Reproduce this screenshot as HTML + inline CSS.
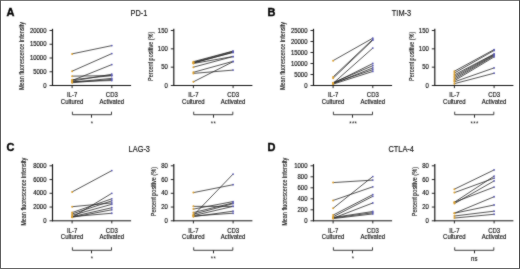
<!DOCTYPE html>
<html><head><meta charset="utf-8"><style>
html,body{margin:0;padding:0;background:#fff;}
#w{position:relative;width:520px;height:269px;overflow:hidden;}
svg{position:absolute;left:0;top:0;will-change:transform;}
text{font-family:"Liberation Sans", sans-serif;fill:#111;stroke:#111;stroke-width:0.16px;}
.sg{stroke:none;letter-spacing:0.4px;}
.yl{stroke:#111;stroke-width:0.12px;}
.pl{stroke:#000;stroke-width:0.35px;fill:#000;}
</style></head><body><div id="w">
<svg width="520" height="269" viewBox="0 0 520 269">
<defs><filter id="bl" x="0" y="0" width="520" height="269" filterUnits="userSpaceOnUse" color-interpolation-filters="sRGB"><feConvolveMatrix order="3" kernelMatrix="1 2 1 2 20 2 1 2 1" divisor="32" edgeMode="duplicate"/></filter></defs>
<g filter="url(#bl)">
<text class="pl" x="0" y="0" font-size="10" font-weight="bold" transform="translate(6.50,15.60) scale(1.1,1)">A</text>
<text x="0" y="0" font-size="8.6" text-anchor="middle" transform="translate(139.00,16.30) scale(0.86,1)">PD-1</text>
<line x1="72.10" y1="53.88" x2="111.80" y2="45.62" stroke="#2a2a2a" stroke-width="0.8" />
<line x1="72.10" y1="71.20" x2="111.80" y2="53.60" stroke="#2a2a2a" stroke-width="0.8" />
<line x1="72.10" y1="80.55" x2="111.80" y2="64.60" stroke="#2a2a2a" stroke-width="0.8" />
<line x1="72.10" y1="76.15" x2="111.80" y2="75.60" stroke="#2a2a2a" stroke-width="0.8" />
<line x1="72.10" y1="81.10" x2="111.80" y2="74.22" stroke="#2a2a2a" stroke-width="0.8" />
<line x1="72.10" y1="79.72" x2="111.80" y2="75.60" stroke="#2a2a2a" stroke-width="0.8" />
<line x1="72.10" y1="82.20" x2="111.80" y2="78.35" stroke="#2a2a2a" stroke-width="0.8" />
<line x1="72.10" y1="82.75" x2="111.80" y2="79.45" stroke="#2a2a2a" stroke-width="0.8" />
<line x1="72.10" y1="81.65" x2="111.80" y2="80.55" stroke="#2a2a2a" stroke-width="0.8" />
<circle cx="72.10" cy="53.88" r="1.0" fill="#dba030"/>
<circle cx="111.80" cy="45.62" r="0.9" fill="#5a5ab4"/>
<circle cx="72.10" cy="71.20" r="1.0" fill="#dba030"/>
<circle cx="111.80" cy="53.60" r="0.9" fill="#5a5ab4"/>
<circle cx="72.10" cy="80.55" r="1.0" fill="#dba030"/>
<circle cx="111.80" cy="64.60" r="0.9" fill="#5a5ab4"/>
<circle cx="72.10" cy="76.15" r="1.0" fill="#dba030"/>
<circle cx="111.80" cy="75.60" r="0.9" fill="#5a5ab4"/>
<circle cx="72.10" cy="81.10" r="1.0" fill="#dba030"/>
<circle cx="111.80" cy="74.22" r="0.9" fill="#5a5ab4"/>
<circle cx="72.10" cy="79.72" r="1.0" fill="#dba030"/>
<circle cx="111.80" cy="75.60" r="0.9" fill="#5a5ab4"/>
<circle cx="72.10" cy="82.20" r="1.0" fill="#dba030"/>
<circle cx="111.80" cy="78.35" r="0.9" fill="#5a5ab4"/>
<circle cx="72.10" cy="82.75" r="1.0" fill="#dba030"/>
<circle cx="111.80" cy="79.45" r="0.9" fill="#5a5ab4"/>
<circle cx="72.10" cy="81.65" r="1.0" fill="#dba030"/>
<circle cx="111.80" cy="80.55" r="0.9" fill="#5a5ab4"/>
<line x1="52.50" y1="28.80" x2="52.50" y2="86.00" stroke="#111" stroke-width="1.15" />
<line x1="52.00" y1="85.50" x2="131.10" y2="85.50" stroke="#111" stroke-width="1.0" />
<line x1="49.50" y1="85.50" x2="52.50" y2="85.50" stroke="#111" stroke-width="0.9" />
<text x="0" y="0" font-size="6.5" text-anchor="end" transform="translate(46.50,87.50) scale(0.92,1)" >0</text>
<line x1="49.50" y1="71.75" x2="52.50" y2="71.75" stroke="#111" stroke-width="0.9" />
<text x="0" y="0" font-size="6.5" text-anchor="end" transform="translate(46.50,73.75) scale(0.92,1)" >5000</text>
<line x1="49.50" y1="58.00" x2="52.50" y2="58.00" stroke="#111" stroke-width="0.9" />
<text x="0" y="0" font-size="6.5" text-anchor="end" transform="translate(46.50,60.00) scale(0.92,1)" >10000</text>
<line x1="49.50" y1="44.25" x2="52.50" y2="44.25" stroke="#111" stroke-width="0.9" />
<text x="0" y="0" font-size="6.5" text-anchor="end" transform="translate(46.50,46.25) scale(0.92,1)" >15000</text>
<line x1="49.50" y1="30.50" x2="52.50" y2="30.50" stroke="#111" stroke-width="0.9" />
<text x="0" y="0" font-size="6.5" text-anchor="end" transform="translate(46.50,32.50) scale(0.92,1)" >20000</text>
<line x1="72.10" y1="85.50" x2="72.10" y2="88.10" stroke="#111" stroke-width="0.9" />
<line x1="111.80" y1="85.50" x2="111.80" y2="88.10" stroke="#111" stroke-width="0.9" />
<text x="0" y="0" font-size="6.5" text-anchor="middle" transform="translate(72.10,97.20) scale(0.92,1)" >IL-7</text>
<text x="0" y="0" font-size="6.5" text-anchor="middle" transform="translate(72.10,104.10) scale(0.92,1)" >Cultured</text>
<text x="0" y="0" font-size="6.5" text-anchor="middle" transform="translate(111.80,97.20) scale(0.92,1)" >CD3</text>
<text x="0" y="0" font-size="6.5" text-anchor="middle" transform="translate(111.80,104.10) scale(0.92,1)" >Activated</text>
<text class="yl" x="0" y="0" font-size="6.8" text-anchor="middle" transform="translate(23.90,56.00) rotate(-90) scale(0.81,1)">Mean fluorescence intensity</text>
<path d="M72.40,111.70 V114.70 H111.50 V111.70" fill="none" stroke="#2a2a2a" stroke-width="0.9"/>
<path d="M91.50,114.70 V117.70" fill="none" stroke="#2a2a2a" stroke-width="1"/>
<text x="0" y="0" font-size="6.5" text-anchor="middle" transform="translate(92.05,125.70) scale(0.92,1)" class="sg">*</text>
<line x1="193.40" y1="61.67" x2="233.10" y2="51.03" stroke="#2a2a2a" stroke-width="0.8" />
<line x1="193.40" y1="62.40" x2="233.10" y2="51.40" stroke="#2a2a2a" stroke-width="0.8" />
<line x1="193.40" y1="63.13" x2="233.10" y2="52.13" stroke="#2a2a2a" stroke-width="0.8" />
<line x1="193.40" y1="63.50" x2="233.10" y2="56.53" stroke="#2a2a2a" stroke-width="0.8" />
<line x1="193.40" y1="67.17" x2="233.10" y2="56.53" stroke="#2a2a2a" stroke-width="0.8" />
<line x1="193.40" y1="72.30" x2="233.10" y2="61.30" stroke="#2a2a2a" stroke-width="0.8" />
<line x1="193.40" y1="73.40" x2="233.10" y2="70.10" stroke="#2a2a2a" stroke-width="0.8" />
<line x1="193.40" y1="81.83" x2="233.10" y2="61.67" stroke="#2a2a2a" stroke-width="0.8" />
<line x1="193.40" y1="62.77" x2="233.10" y2="52.50" stroke="#2a2a2a" stroke-width="0.8" />
<circle cx="193.40" cy="61.67" r="1.0" fill="#dba030"/>
<circle cx="233.10" cy="51.03" r="0.9" fill="#5a5ab4"/>
<circle cx="193.40" cy="62.40" r="1.0" fill="#dba030"/>
<circle cx="233.10" cy="51.40" r="0.9" fill="#5a5ab4"/>
<circle cx="193.40" cy="63.13" r="1.0" fill="#dba030"/>
<circle cx="233.10" cy="52.13" r="0.9" fill="#5a5ab4"/>
<circle cx="193.40" cy="63.50" r="1.0" fill="#dba030"/>
<circle cx="233.10" cy="56.53" r="0.9" fill="#5a5ab4"/>
<circle cx="193.40" cy="67.17" r="1.0" fill="#dba030"/>
<circle cx="233.10" cy="56.53" r="0.9" fill="#5a5ab4"/>
<circle cx="193.40" cy="72.30" r="1.0" fill="#dba030"/>
<circle cx="233.10" cy="61.30" r="0.9" fill="#5a5ab4"/>
<circle cx="193.40" cy="73.40" r="1.0" fill="#dba030"/>
<circle cx="233.10" cy="70.10" r="0.9" fill="#5a5ab4"/>
<circle cx="193.40" cy="81.83" r="1.0" fill="#dba030"/>
<circle cx="233.10" cy="61.67" r="0.9" fill="#5a5ab4"/>
<circle cx="193.40" cy="62.77" r="1.0" fill="#dba030"/>
<circle cx="233.10" cy="52.50" r="0.9" fill="#5a5ab4"/>
<line x1="173.80" y1="28.80" x2="173.80" y2="86.00" stroke="#111" stroke-width="1.15" />
<line x1="173.30" y1="85.50" x2="252.40" y2="85.50" stroke="#111" stroke-width="1.0" />
<line x1="170.80" y1="85.50" x2="173.80" y2="85.50" stroke="#111" stroke-width="0.9" />
<text x="0" y="0" font-size="6.5" text-anchor="end" transform="translate(167.80,87.50) scale(0.92,1)" >0</text>
<line x1="170.80" y1="67.17" x2="173.80" y2="67.17" stroke="#111" stroke-width="0.9" />
<text x="0" y="0" font-size="6.5" text-anchor="end" transform="translate(167.80,69.17) scale(0.92,1)" >50</text>
<line x1="170.80" y1="48.83" x2="173.80" y2="48.83" stroke="#111" stroke-width="0.9" />
<text x="0" y="0" font-size="6.5" text-anchor="end" transform="translate(167.80,50.83) scale(0.92,1)" >100</text>
<line x1="170.80" y1="30.50" x2="173.80" y2="30.50" stroke="#111" stroke-width="0.9" />
<text x="0" y="0" font-size="6.5" text-anchor="end" transform="translate(167.80,32.50) scale(0.92,1)" >150</text>
<line x1="193.40" y1="85.50" x2="193.40" y2="88.10" stroke="#111" stroke-width="0.9" />
<line x1="233.10" y1="85.50" x2="233.10" y2="88.10" stroke="#111" stroke-width="0.9" />
<text x="0" y="0" font-size="6.5" text-anchor="middle" transform="translate(193.40,97.20) scale(0.92,1)" >IL-7</text>
<text x="0" y="0" font-size="6.5" text-anchor="middle" transform="translate(193.40,104.10) scale(0.92,1)" >Cultured</text>
<text x="0" y="0" font-size="6.5" text-anchor="middle" transform="translate(233.10,97.20) scale(0.92,1)" >CD3</text>
<text x="0" y="0" font-size="6.5" text-anchor="middle" transform="translate(233.10,104.10) scale(0.92,1)" >Activated</text>
<text class="yl" x="0" y="0" font-size="6.8" text-anchor="middle" transform="translate(152.60,56.30) rotate(-90) scale(0.81,1)">Percent positive (%)</text>
<path d="M193.70,111.70 V114.70 H232.80 V111.70" fill="none" stroke="#2a2a2a" stroke-width="0.9"/>
<path d="M213.50,114.70 V117.70" fill="none" stroke="#2a2a2a" stroke-width="1"/>
<text x="0" y="0" font-size="6.5" text-anchor="middle" transform="translate(213.45,125.70) scale(0.92,1)" class="sg">**</text>
<text class="pl" x="0" y="0" font-size="10" font-weight="bold" transform="translate(267.50,15.60) scale(1.1,1)">B</text>
<text x="0" y="0" font-size="8.6" text-anchor="middle" transform="translate(401.50,16.30) scale(0.86,1)">TIM-3</text>
<line x1="333.10" y1="60.64" x2="372.80" y2="38.20" stroke="#2a2a2a" stroke-width="0.8" />
<line x1="333.10" y1="76.92" x2="372.80" y2="39.30" stroke="#2a2a2a" stroke-width="0.8" />
<line x1="333.10" y1="78.24" x2="372.80" y2="40.18" stroke="#2a2a2a" stroke-width="0.8" />
<line x1="333.10" y1="83.30" x2="372.80" y2="48.10" stroke="#2a2a2a" stroke-width="0.8" />
<line x1="333.10" y1="83.30" x2="372.80" y2="63.50" stroke="#2a2a2a" stroke-width="0.8" />
<line x1="333.10" y1="82.64" x2="372.80" y2="65.70" stroke="#2a2a2a" stroke-width="0.8" />
<line x1="333.10" y1="83.74" x2="372.80" y2="67.90" stroke="#2a2a2a" stroke-width="0.8" />
<line x1="333.10" y1="83.08" x2="372.80" y2="69.66" stroke="#2a2a2a" stroke-width="0.8" />
<line x1="333.10" y1="84.18" x2="372.80" y2="71.42" stroke="#2a2a2a" stroke-width="0.8" />
<circle cx="333.10" cy="60.64" r="1.0" fill="#dba030"/>
<circle cx="372.80" cy="38.20" r="0.9" fill="#5a5ab4"/>
<circle cx="333.10" cy="76.92" r="1.0" fill="#dba030"/>
<circle cx="372.80" cy="39.30" r="0.9" fill="#5a5ab4"/>
<circle cx="333.10" cy="78.24" r="1.0" fill="#dba030"/>
<circle cx="372.80" cy="40.18" r="0.9" fill="#5a5ab4"/>
<circle cx="333.10" cy="83.30" r="1.0" fill="#dba030"/>
<circle cx="372.80" cy="48.10" r="0.9" fill="#5a5ab4"/>
<circle cx="333.10" cy="83.30" r="1.0" fill="#dba030"/>
<circle cx="372.80" cy="63.50" r="0.9" fill="#5a5ab4"/>
<circle cx="333.10" cy="82.64" r="1.0" fill="#dba030"/>
<circle cx="372.80" cy="65.70" r="0.9" fill="#5a5ab4"/>
<circle cx="333.10" cy="83.74" r="1.0" fill="#dba030"/>
<circle cx="372.80" cy="67.90" r="0.9" fill="#5a5ab4"/>
<circle cx="333.10" cy="83.08" r="1.0" fill="#dba030"/>
<circle cx="372.80" cy="69.66" r="0.9" fill="#5a5ab4"/>
<circle cx="333.10" cy="84.18" r="1.0" fill="#dba030"/>
<circle cx="372.80" cy="71.42" r="0.9" fill="#5a5ab4"/>
<line x1="313.50" y1="28.80" x2="313.50" y2="86.00" stroke="#111" stroke-width="1.15" />
<line x1="313.00" y1="85.50" x2="392.10" y2="85.50" stroke="#111" stroke-width="1.0" />
<line x1="310.50" y1="85.50" x2="313.50" y2="85.50" stroke="#111" stroke-width="0.9" />
<text x="0" y="0" font-size="6.5" text-anchor="end" transform="translate(307.50,87.50) scale(0.92,1)" >0</text>
<line x1="310.50" y1="74.50" x2="313.50" y2="74.50" stroke="#111" stroke-width="0.9" />
<text x="0" y="0" font-size="6.5" text-anchor="end" transform="translate(307.50,76.50) scale(0.92,1)" >5000</text>
<line x1="310.50" y1="63.50" x2="313.50" y2="63.50" stroke="#111" stroke-width="0.9" />
<text x="0" y="0" font-size="6.5" text-anchor="end" transform="translate(307.50,65.50) scale(0.92,1)" >10000</text>
<line x1="310.50" y1="52.50" x2="313.50" y2="52.50" stroke="#111" stroke-width="0.9" />
<text x="0" y="0" font-size="6.5" text-anchor="end" transform="translate(307.50,54.50) scale(0.92,1)" >15000</text>
<line x1="310.50" y1="41.50" x2="313.50" y2="41.50" stroke="#111" stroke-width="0.9" />
<text x="0" y="0" font-size="6.5" text-anchor="end" transform="translate(307.50,43.50) scale(0.92,1)" >20000</text>
<line x1="310.50" y1="30.50" x2="313.50" y2="30.50" stroke="#111" stroke-width="0.9" />
<text x="0" y="0" font-size="6.5" text-anchor="end" transform="translate(307.50,32.50) scale(0.92,1)" >25000</text>
<line x1="333.10" y1="85.50" x2="333.10" y2="88.10" stroke="#111" stroke-width="0.9" />
<line x1="372.80" y1="85.50" x2="372.80" y2="88.10" stroke="#111" stroke-width="0.9" />
<text x="0" y="0" font-size="6.5" text-anchor="middle" transform="translate(333.10,97.20) scale(0.92,1)" >IL-7</text>
<text x="0" y="0" font-size="6.5" text-anchor="middle" transform="translate(333.10,104.10) scale(0.92,1)" >Cultured</text>
<text x="0" y="0" font-size="6.5" text-anchor="middle" transform="translate(372.80,97.20) scale(0.92,1)" >CD3</text>
<text x="0" y="0" font-size="6.5" text-anchor="middle" transform="translate(372.80,104.10) scale(0.92,1)" >Activated</text>
<text class="yl" x="0" y="0" font-size="6.8" text-anchor="middle" transform="translate(284.90,56.00) rotate(-90) scale(0.81,1)">Mean fluorescence intensity</text>
<path d="M333.40,111.70 V114.70 H372.50 V111.70" fill="none" stroke="#2a2a2a" stroke-width="0.9"/>
<path d="M352.50,114.70 V117.70" fill="none" stroke="#2a2a2a" stroke-width="1"/>
<text x="0" y="0" font-size="6.5" text-anchor="middle" transform="translate(353.25,125.70) scale(0.92,1)" class="sg">***</text>
<line x1="454.40" y1="71.20" x2="494.10" y2="49.57" stroke="#2a2a2a" stroke-width="0.8" />
<line x1="454.40" y1="73.03" x2="494.10" y2="50.48" stroke="#2a2a2a" stroke-width="0.8" />
<line x1="454.40" y1="74.87" x2="494.10" y2="53.97" stroke="#2a2a2a" stroke-width="0.8" />
<line x1="454.40" y1="76.33" x2="494.10" y2="54.33" stroke="#2a2a2a" stroke-width="0.8" />
<line x1="454.40" y1="77.80" x2="494.10" y2="55.07" stroke="#2a2a2a" stroke-width="0.8" />
<line x1="454.40" y1="79.27" x2="494.10" y2="55.80" stroke="#2a2a2a" stroke-width="0.8" />
<line x1="454.40" y1="80.73" x2="494.10" y2="56.90" stroke="#2a2a2a" stroke-width="0.8" />
<line x1="454.40" y1="81.83" x2="494.10" y2="67.90" stroke="#2a2a2a" stroke-width="0.8" />
<line x1="454.40" y1="83.67" x2="494.10" y2="73.22" stroke="#2a2a2a" stroke-width="0.8" />
<circle cx="454.40" cy="71.20" r="1.0" fill="#dba030"/>
<circle cx="494.10" cy="49.57" r="0.9" fill="#5a5ab4"/>
<circle cx="454.40" cy="73.03" r="1.0" fill="#dba030"/>
<circle cx="494.10" cy="50.48" r="0.9" fill="#5a5ab4"/>
<circle cx="454.40" cy="74.87" r="1.0" fill="#dba030"/>
<circle cx="494.10" cy="53.97" r="0.9" fill="#5a5ab4"/>
<circle cx="454.40" cy="76.33" r="1.0" fill="#dba030"/>
<circle cx="494.10" cy="54.33" r="0.9" fill="#5a5ab4"/>
<circle cx="454.40" cy="77.80" r="1.0" fill="#dba030"/>
<circle cx="494.10" cy="55.07" r="0.9" fill="#5a5ab4"/>
<circle cx="454.40" cy="79.27" r="1.0" fill="#dba030"/>
<circle cx="494.10" cy="55.80" r="0.9" fill="#5a5ab4"/>
<circle cx="454.40" cy="80.73" r="1.0" fill="#dba030"/>
<circle cx="494.10" cy="56.90" r="0.9" fill="#5a5ab4"/>
<circle cx="454.40" cy="81.83" r="1.0" fill="#dba030"/>
<circle cx="494.10" cy="67.90" r="0.9" fill="#5a5ab4"/>
<circle cx="454.40" cy="83.67" r="1.0" fill="#dba030"/>
<circle cx="494.10" cy="73.22" r="0.9" fill="#5a5ab4"/>
<line x1="434.80" y1="28.80" x2="434.80" y2="86.00" stroke="#111" stroke-width="1.15" />
<line x1="434.30" y1="85.50" x2="513.40" y2="85.50" stroke="#111" stroke-width="1.0" />
<line x1="431.80" y1="85.50" x2="434.80" y2="85.50" stroke="#111" stroke-width="0.9" />
<text x="0" y="0" font-size="6.5" text-anchor="end" transform="translate(428.80,87.50) scale(0.92,1)" >0</text>
<line x1="431.80" y1="67.17" x2="434.80" y2="67.17" stroke="#111" stroke-width="0.9" />
<text x="0" y="0" font-size="6.5" text-anchor="end" transform="translate(428.80,69.17) scale(0.92,1)" >50</text>
<line x1="431.80" y1="48.83" x2="434.80" y2="48.83" stroke="#111" stroke-width="0.9" />
<text x="0" y="0" font-size="6.5" text-anchor="end" transform="translate(428.80,50.83) scale(0.92,1)" >100</text>
<line x1="431.80" y1="30.50" x2="434.80" y2="30.50" stroke="#111" stroke-width="0.9" />
<text x="0" y="0" font-size="6.5" text-anchor="end" transform="translate(428.80,32.50) scale(0.92,1)" >150</text>
<line x1="454.40" y1="85.50" x2="454.40" y2="88.10" stroke="#111" stroke-width="0.9" />
<line x1="494.10" y1="85.50" x2="494.10" y2="88.10" stroke="#111" stroke-width="0.9" />
<text x="0" y="0" font-size="6.5" text-anchor="middle" transform="translate(454.40,97.20) scale(0.92,1)" >IL-7</text>
<text x="0" y="0" font-size="6.5" text-anchor="middle" transform="translate(454.40,104.10) scale(0.92,1)" >Cultured</text>
<text x="0" y="0" font-size="6.5" text-anchor="middle" transform="translate(494.10,97.20) scale(0.92,1)" >CD3</text>
<text x="0" y="0" font-size="6.5" text-anchor="middle" transform="translate(494.10,104.10) scale(0.92,1)" >Activated</text>
<text class="yl" x="0" y="0" font-size="6.8" text-anchor="middle" transform="translate(413.60,56.30) rotate(-90) scale(0.81,1)">Percent positive (%)</text>
<path d="M454.70,111.70 V114.70 H493.80 V111.70" fill="none" stroke="#2a2a2a" stroke-width="0.9"/>
<path d="M474.50,114.70 V117.70" fill="none" stroke="#2a2a2a" stroke-width="1"/>
<text x="0" y="0" font-size="6.5" text-anchor="middle" transform="translate(474.55,125.70) scale(0.92,1)" class="sg">***</text>
<text class="pl" x="0" y="0" font-size="10" font-weight="bold" transform="translate(6.50,150.90) scale(1.1,1)">C</text>
<text x="0" y="0" font-size="8.6" text-anchor="middle" transform="translate(139.30,151.60) scale(0.86,1)">LAG-3</text>
<line x1="72.10" y1="191.93" x2="111.80" y2="170.61" stroke="#2a2a2a" stroke-width="0.8" />
<line x1="72.10" y1="206.71" x2="111.80" y2="202.93" stroke="#2a2a2a" stroke-width="0.8" />
<line x1="72.10" y1="217.36" x2="111.80" y2="193.30" stroke="#2a2a2a" stroke-width="0.8" />
<line x1="72.10" y1="212.55" x2="111.80" y2="198.80" stroke="#2a2a2a" stroke-width="0.8" />
<line x1="72.10" y1="213.93" x2="111.80" y2="200.86" stroke="#2a2a2a" stroke-width="0.8" />
<line x1="72.10" y1="215.30" x2="111.80" y2="204.30" stroke="#2a2a2a" stroke-width="0.8" />
<line x1="72.10" y1="216.68" x2="111.80" y2="207.74" stroke="#2a2a2a" stroke-width="0.8" />
<line x1="72.10" y1="217.36" x2="111.80" y2="209.80" stroke="#2a2a2a" stroke-width="0.8" />
<line x1="72.10" y1="216.68" x2="111.80" y2="213.24" stroke="#2a2a2a" stroke-width="0.8" />
<circle cx="72.10" cy="191.93" r="1.0" fill="#dba030"/>
<circle cx="111.80" cy="170.61" r="0.9" fill="#5a5ab4"/>
<circle cx="72.10" cy="206.71" r="1.0" fill="#dba030"/>
<circle cx="111.80" cy="202.93" r="0.9" fill="#5a5ab4"/>
<circle cx="72.10" cy="217.36" r="1.0" fill="#dba030"/>
<circle cx="111.80" cy="193.30" r="0.9" fill="#5a5ab4"/>
<circle cx="72.10" cy="212.55" r="1.0" fill="#dba030"/>
<circle cx="111.80" cy="198.80" r="0.9" fill="#5a5ab4"/>
<circle cx="72.10" cy="213.93" r="1.0" fill="#dba030"/>
<circle cx="111.80" cy="200.86" r="0.9" fill="#5a5ab4"/>
<circle cx="72.10" cy="215.30" r="1.0" fill="#dba030"/>
<circle cx="111.80" cy="204.30" r="0.9" fill="#5a5ab4"/>
<circle cx="72.10" cy="216.68" r="1.0" fill="#dba030"/>
<circle cx="111.80" cy="207.74" r="0.9" fill="#5a5ab4"/>
<circle cx="72.10" cy="217.36" r="1.0" fill="#dba030"/>
<circle cx="111.80" cy="209.80" r="0.9" fill="#5a5ab4"/>
<circle cx="72.10" cy="216.68" r="1.0" fill="#dba030"/>
<circle cx="111.80" cy="213.24" r="0.9" fill="#5a5ab4"/>
<line x1="52.50" y1="164.10" x2="52.50" y2="221.30" stroke="#111" stroke-width="1.15" />
<line x1="52.00" y1="220.80" x2="131.10" y2="220.80" stroke="#111" stroke-width="1.0" />
<line x1="49.50" y1="220.80" x2="52.50" y2="220.80" stroke="#111" stroke-width="0.9" />
<text x="0" y="0" font-size="6.5" text-anchor="end" transform="translate(46.50,222.80) scale(0.92,1)" >0</text>
<line x1="49.50" y1="207.05" x2="52.50" y2="207.05" stroke="#111" stroke-width="0.9" />
<text x="0" y="0" font-size="6.5" text-anchor="end" transform="translate(46.50,209.05) scale(0.92,1)" >2000</text>
<line x1="49.50" y1="193.30" x2="52.50" y2="193.30" stroke="#111" stroke-width="0.9" />
<text x="0" y="0" font-size="6.5" text-anchor="end" transform="translate(46.50,195.30) scale(0.92,1)" >4000</text>
<line x1="49.50" y1="179.55" x2="52.50" y2="179.55" stroke="#111" stroke-width="0.9" />
<text x="0" y="0" font-size="6.5" text-anchor="end" transform="translate(46.50,181.55) scale(0.92,1)" >6000</text>
<line x1="49.50" y1="165.80" x2="52.50" y2="165.80" stroke="#111" stroke-width="0.9" />
<text x="0" y="0" font-size="6.5" text-anchor="end" transform="translate(46.50,167.80) scale(0.92,1)" >8000</text>
<line x1="72.10" y1="220.80" x2="72.10" y2="223.40" stroke="#111" stroke-width="0.9" />
<line x1="111.80" y1="220.80" x2="111.80" y2="223.40" stroke="#111" stroke-width="0.9" />
<text x="0" y="0" font-size="6.5" text-anchor="middle" transform="translate(72.10,232.50) scale(0.92,1)" >IL-7</text>
<text x="0" y="0" font-size="6.5" text-anchor="middle" transform="translate(72.10,239.40) scale(0.92,1)" >Cultured</text>
<text x="0" y="0" font-size="6.5" text-anchor="middle" transform="translate(111.80,232.50) scale(0.92,1)" >CD3</text>
<text x="0" y="0" font-size="6.5" text-anchor="middle" transform="translate(111.80,239.40) scale(0.92,1)" >Activated</text>
<text class="yl" x="0" y="0" font-size="6.8" text-anchor="middle" transform="translate(26.40,191.80) rotate(-90) scale(0.81,1)">Mean fluorescence intensity</text>
<path d="M72.40,247.30 V250.30 H111.50 V247.30" fill="none" stroke="#2a2a2a" stroke-width="0.9"/>
<path d="M91.50,250.30 V253.30" fill="none" stroke="#2a2a2a" stroke-width="1"/>
<text x="0" y="0" font-size="6.5" text-anchor="middle" transform="translate(92.05,261.00) scale(0.92,1)" class="sg">*</text>
<line x1="193.40" y1="192.61" x2="233.10" y2="184.71" stroke="#2a2a2a" stroke-width="0.8" />
<line x1="193.40" y1="215.30" x2="233.10" y2="174.05" stroke="#2a2a2a" stroke-width="0.8" />
<line x1="193.40" y1="206.36" x2="233.10" y2="206.36" stroke="#2a2a2a" stroke-width="0.8" />
<line x1="193.40" y1="209.11" x2="233.10" y2="201.55" stroke="#2a2a2a" stroke-width="0.8" />
<line x1="193.40" y1="212.55" x2="233.10" y2="202.93" stroke="#2a2a2a" stroke-width="0.8" />
<line x1="193.40" y1="214.27" x2="233.10" y2="203.61" stroke="#2a2a2a" stroke-width="0.8" />
<line x1="193.40" y1="215.64" x2="233.10" y2="206.36" stroke="#2a2a2a" stroke-width="0.8" />
<line x1="193.40" y1="216.68" x2="233.10" y2="211.18" stroke="#2a2a2a" stroke-width="0.8" />
<line x1="193.40" y1="215.99" x2="233.10" y2="213.24" stroke="#2a2a2a" stroke-width="0.8" />
<circle cx="193.40" cy="192.61" r="1.0" fill="#dba030"/>
<circle cx="233.10" cy="184.71" r="0.9" fill="#5a5ab4"/>
<circle cx="193.40" cy="215.30" r="1.0" fill="#dba030"/>
<circle cx="233.10" cy="174.05" r="0.9" fill="#5a5ab4"/>
<circle cx="193.40" cy="206.36" r="1.0" fill="#dba030"/>
<circle cx="233.10" cy="206.36" r="0.9" fill="#5a5ab4"/>
<circle cx="193.40" cy="209.11" r="1.0" fill="#dba030"/>
<circle cx="233.10" cy="201.55" r="0.9" fill="#5a5ab4"/>
<circle cx="193.40" cy="212.55" r="1.0" fill="#dba030"/>
<circle cx="233.10" cy="202.93" r="0.9" fill="#5a5ab4"/>
<circle cx="193.40" cy="214.27" r="1.0" fill="#dba030"/>
<circle cx="233.10" cy="203.61" r="0.9" fill="#5a5ab4"/>
<circle cx="193.40" cy="215.64" r="1.0" fill="#dba030"/>
<circle cx="233.10" cy="206.36" r="0.9" fill="#5a5ab4"/>
<circle cx="193.40" cy="216.68" r="1.0" fill="#dba030"/>
<circle cx="233.10" cy="211.18" r="0.9" fill="#5a5ab4"/>
<circle cx="193.40" cy="215.99" r="1.0" fill="#dba030"/>
<circle cx="233.10" cy="213.24" r="0.9" fill="#5a5ab4"/>
<line x1="173.80" y1="164.10" x2="173.80" y2="221.30" stroke="#111" stroke-width="1.15" />
<line x1="173.30" y1="220.80" x2="252.40" y2="220.80" stroke="#111" stroke-width="1.0" />
<line x1="170.80" y1="220.80" x2="173.80" y2="220.80" stroke="#111" stroke-width="0.9" />
<text x="0" y="0" font-size="6.5" text-anchor="end" transform="translate(167.80,222.80) scale(0.92,1)" >0</text>
<line x1="170.80" y1="207.05" x2="173.80" y2="207.05" stroke="#111" stroke-width="0.9" />
<text x="0" y="0" font-size="6.5" text-anchor="end" transform="translate(167.80,209.05) scale(0.92,1)" >20</text>
<line x1="170.80" y1="193.30" x2="173.80" y2="193.30" stroke="#111" stroke-width="0.9" />
<text x="0" y="0" font-size="6.5" text-anchor="end" transform="translate(167.80,195.30) scale(0.92,1)" >40</text>
<line x1="170.80" y1="179.55" x2="173.80" y2="179.55" stroke="#111" stroke-width="0.9" />
<text x="0" y="0" font-size="6.5" text-anchor="end" transform="translate(167.80,181.55) scale(0.92,1)" >60</text>
<line x1="170.80" y1="165.80" x2="173.80" y2="165.80" stroke="#111" stroke-width="0.9" />
<text x="0" y="0" font-size="6.5" text-anchor="end" transform="translate(167.80,167.80) scale(0.92,1)" >80</text>
<line x1="193.40" y1="220.80" x2="193.40" y2="223.40" stroke="#111" stroke-width="0.9" />
<line x1="233.10" y1="220.80" x2="233.10" y2="223.40" stroke="#111" stroke-width="0.9" />
<text x="0" y="0" font-size="6.5" text-anchor="middle" transform="translate(193.40,232.50) scale(0.92,1)" >IL-7</text>
<text x="0" y="0" font-size="6.5" text-anchor="middle" transform="translate(193.40,239.40) scale(0.92,1)" >Cultured</text>
<text x="0" y="0" font-size="6.5" text-anchor="middle" transform="translate(233.10,232.50) scale(0.92,1)" >CD3</text>
<text x="0" y="0" font-size="6.5" text-anchor="middle" transform="translate(233.10,239.40) scale(0.92,1)" >Activated</text>
<text class="yl" x="0" y="0" font-size="6.8" text-anchor="middle" transform="translate(155.90,191.60) rotate(-90) scale(0.81,1)">Percent positive (%)</text>
<path d="M193.70,247.30 V250.30 H232.80 V247.30" fill="none" stroke="#2a2a2a" stroke-width="0.9"/>
<path d="M213.50,250.30 V253.30" fill="none" stroke="#2a2a2a" stroke-width="1"/>
<text x="0" y="0" font-size="6.5" text-anchor="middle" transform="translate(213.45,261.00) scale(0.92,1)" class="sg">**</text>
<text class="pl" x="0" y="0" font-size="10" font-weight="bold" transform="translate(267.50,150.90) scale(1.1,1)">D</text>
<text x="0" y="0" font-size="8.6" text-anchor="middle" transform="translate(401.20,151.60) scale(0.86,1)">CTLA-4</text>
<line x1="333.10" y1="182.58" x2="372.80" y2="180.10" stroke="#2a2a2a" stroke-width="0.8" />
<line x1="333.10" y1="200.45" x2="372.80" y2="186.81" stroke="#2a2a2a" stroke-width="0.8" />
<line x1="333.10" y1="208.31" x2="372.80" y2="176.53" stroke="#2a2a2a" stroke-width="0.8" />
<line x1="333.10" y1="215.08" x2="372.80" y2="194.62" stroke="#2a2a2a" stroke-width="0.8" />
<line x1="333.10" y1="216.79" x2="372.80" y2="196.33" stroke="#2a2a2a" stroke-width="0.8" />
<line x1="333.10" y1="218.22" x2="372.80" y2="202.98" stroke="#2a2a2a" stroke-width="0.8" />
<line x1="333.10" y1="217.50" x2="372.80" y2="211.51" stroke="#2a2a2a" stroke-width="0.8" />
<line x1="333.10" y1="218.05" x2="372.80" y2="212.72" stroke="#2a2a2a" stroke-width="0.8" />
<line x1="333.10" y1="218.60" x2="372.80" y2="213.93" stroke="#2a2a2a" stroke-width="0.8" />
<circle cx="333.10" cy="182.58" r="1.0" fill="#dba030"/>
<circle cx="372.80" cy="180.10" r="0.9" fill="#5a5ab4"/>
<circle cx="333.10" cy="200.45" r="1.0" fill="#dba030"/>
<circle cx="372.80" cy="186.81" r="0.9" fill="#5a5ab4"/>
<circle cx="333.10" cy="208.31" r="1.0" fill="#dba030"/>
<circle cx="372.80" cy="176.53" r="0.9" fill="#5a5ab4"/>
<circle cx="333.10" cy="215.08" r="1.0" fill="#dba030"/>
<circle cx="372.80" cy="194.62" r="0.9" fill="#5a5ab4"/>
<circle cx="333.10" cy="216.79" r="1.0" fill="#dba030"/>
<circle cx="372.80" cy="196.33" r="0.9" fill="#5a5ab4"/>
<circle cx="333.10" cy="218.22" r="1.0" fill="#dba030"/>
<circle cx="372.80" cy="202.98" r="0.9" fill="#5a5ab4"/>
<circle cx="333.10" cy="217.50" r="1.0" fill="#dba030"/>
<circle cx="372.80" cy="211.51" r="0.9" fill="#5a5ab4"/>
<circle cx="333.10" cy="218.05" r="1.0" fill="#dba030"/>
<circle cx="372.80" cy="212.72" r="0.9" fill="#5a5ab4"/>
<circle cx="333.10" cy="218.60" r="1.0" fill="#dba030"/>
<circle cx="372.80" cy="213.93" r="0.9" fill="#5a5ab4"/>
<line x1="313.50" y1="164.10" x2="313.50" y2="221.30" stroke="#111" stroke-width="1.15" />
<line x1="313.00" y1="220.80" x2="392.10" y2="220.80" stroke="#111" stroke-width="1.0" />
<line x1="310.50" y1="220.80" x2="313.50" y2="220.80" stroke="#111" stroke-width="0.9" />
<text x="0" y="0" font-size="6.5" text-anchor="end" transform="translate(307.50,222.80) scale(0.92,1)" >0</text>
<line x1="310.50" y1="209.80" x2="313.50" y2="209.80" stroke="#111" stroke-width="0.9" />
<text x="0" y="0" font-size="6.5" text-anchor="end" transform="translate(307.50,211.80) scale(0.92,1)" >200</text>
<line x1="310.50" y1="198.80" x2="313.50" y2="198.80" stroke="#111" stroke-width="0.9" />
<text x="0" y="0" font-size="6.5" text-anchor="end" transform="translate(307.50,200.80) scale(0.92,1)" >400</text>
<line x1="310.50" y1="187.80" x2="313.50" y2="187.80" stroke="#111" stroke-width="0.9" />
<text x="0" y="0" font-size="6.5" text-anchor="end" transform="translate(307.50,189.80) scale(0.92,1)" >600</text>
<line x1="310.50" y1="176.80" x2="313.50" y2="176.80" stroke="#111" stroke-width="0.9" />
<text x="0" y="0" font-size="6.5" text-anchor="end" transform="translate(307.50,178.80) scale(0.92,1)" >800</text>
<line x1="310.50" y1="165.80" x2="313.50" y2="165.80" stroke="#111" stroke-width="0.9" />
<text x="0" y="0" font-size="6.5" text-anchor="end" transform="translate(307.50,167.80) scale(0.92,1)" >1000</text>
<line x1="333.10" y1="220.80" x2="333.10" y2="223.40" stroke="#111" stroke-width="0.9" />
<line x1="372.80" y1="220.80" x2="372.80" y2="223.40" stroke="#111" stroke-width="0.9" />
<text x="0" y="0" font-size="6.5" text-anchor="middle" transform="translate(333.10,232.50) scale(0.92,1)" >IL-7</text>
<text x="0" y="0" font-size="6.5" text-anchor="middle" transform="translate(333.10,239.40) scale(0.92,1)" >Cultured</text>
<text x="0" y="0" font-size="6.5" text-anchor="middle" transform="translate(372.80,232.50) scale(0.92,1)" >CD3</text>
<text x="0" y="0" font-size="6.5" text-anchor="middle" transform="translate(372.80,239.40) scale(0.92,1)" >Activated</text>
<text class="yl" x="0" y="0" font-size="6.8" text-anchor="middle" transform="translate(287.40,191.80) rotate(-90) scale(0.81,1)">Mean fluorescence intensity</text>
<path d="M333.40,247.30 V250.30 H372.50 V247.30" fill="none" stroke="#2a2a2a" stroke-width="0.9"/>
<path d="M352.50,250.30 V253.30" fill="none" stroke="#2a2a2a" stroke-width="1"/>
<text x="0" y="0" font-size="6.5" text-anchor="middle" transform="translate(353.05,261.00) scale(0.92,1)" class="sg">*</text>
<line x1="454.40" y1="189.18" x2="494.10" y2="169.93" stroke="#2a2a2a" stroke-width="0.8" />
<line x1="454.40" y1="192.61" x2="494.10" y2="178.18" stroke="#2a2a2a" stroke-width="0.8" />
<line x1="454.40" y1="202.24" x2="494.10" y2="176.11" stroke="#2a2a2a" stroke-width="0.8" />
<line x1="454.40" y1="203.61" x2="494.10" y2="180.93" stroke="#2a2a2a" stroke-width="0.8" />
<line x1="454.40" y1="202.24" x2="494.10" y2="187.11" stroke="#2a2a2a" stroke-width="0.8" />
<line x1="454.40" y1="213.24" x2="494.10" y2="196.74" stroke="#2a2a2a" stroke-width="0.8" />
<line x1="454.40" y1="213.24" x2="494.10" y2="204.99" stroke="#2a2a2a" stroke-width="0.8" />
<line x1="454.40" y1="215.99" x2="494.10" y2="211.18" stroke="#2a2a2a" stroke-width="0.8" />
<line x1="454.40" y1="218.05" x2="494.10" y2="214.27" stroke="#2a2a2a" stroke-width="0.8" />
<circle cx="454.40" cy="189.18" r="1.0" fill="#dba030"/>
<circle cx="494.10" cy="169.93" r="0.9" fill="#5a5ab4"/>
<circle cx="454.40" cy="192.61" r="1.0" fill="#dba030"/>
<circle cx="494.10" cy="178.18" r="0.9" fill="#5a5ab4"/>
<circle cx="454.40" cy="202.24" r="1.0" fill="#dba030"/>
<circle cx="494.10" cy="176.11" r="0.9" fill="#5a5ab4"/>
<circle cx="454.40" cy="203.61" r="1.0" fill="#dba030"/>
<circle cx="494.10" cy="180.93" r="0.9" fill="#5a5ab4"/>
<circle cx="454.40" cy="202.24" r="1.0" fill="#dba030"/>
<circle cx="494.10" cy="187.11" r="0.9" fill="#5a5ab4"/>
<circle cx="454.40" cy="213.24" r="1.0" fill="#dba030"/>
<circle cx="494.10" cy="196.74" r="0.9" fill="#5a5ab4"/>
<circle cx="454.40" cy="213.24" r="1.0" fill="#dba030"/>
<circle cx="494.10" cy="204.99" r="0.9" fill="#5a5ab4"/>
<circle cx="454.40" cy="215.99" r="1.0" fill="#dba030"/>
<circle cx="494.10" cy="211.18" r="0.9" fill="#5a5ab4"/>
<circle cx="454.40" cy="218.05" r="1.0" fill="#dba030"/>
<circle cx="494.10" cy="214.27" r="0.9" fill="#5a5ab4"/>
<line x1="434.80" y1="164.10" x2="434.80" y2="221.30" stroke="#111" stroke-width="1.15" />
<line x1="434.30" y1="220.80" x2="513.40" y2="220.80" stroke="#111" stroke-width="1.0" />
<line x1="431.80" y1="220.80" x2="434.80" y2="220.80" stroke="#111" stroke-width="0.9" />
<text x="0" y="0" font-size="6.5" text-anchor="end" transform="translate(428.80,222.80) scale(0.92,1)" >0</text>
<line x1="431.80" y1="207.05" x2="434.80" y2="207.05" stroke="#111" stroke-width="0.9" />
<text x="0" y="0" font-size="6.5" text-anchor="end" transform="translate(428.80,209.05) scale(0.92,1)" >20</text>
<line x1="431.80" y1="193.30" x2="434.80" y2="193.30" stroke="#111" stroke-width="0.9" />
<text x="0" y="0" font-size="6.5" text-anchor="end" transform="translate(428.80,195.30) scale(0.92,1)" >40</text>
<line x1="431.80" y1="179.55" x2="434.80" y2="179.55" stroke="#111" stroke-width="0.9" />
<text x="0" y="0" font-size="6.5" text-anchor="end" transform="translate(428.80,181.55) scale(0.92,1)" >60</text>
<line x1="431.80" y1="165.80" x2="434.80" y2="165.80" stroke="#111" stroke-width="0.9" />
<text x="0" y="0" font-size="6.5" text-anchor="end" transform="translate(428.80,167.80) scale(0.92,1)" >80</text>
<line x1="454.40" y1="220.80" x2="454.40" y2="223.40" stroke="#111" stroke-width="0.9" />
<line x1="494.10" y1="220.80" x2="494.10" y2="223.40" stroke="#111" stroke-width="0.9" />
<text x="0" y="0" font-size="6.5" text-anchor="middle" transform="translate(454.40,232.50) scale(0.92,1)" >IL-7</text>
<text x="0" y="0" font-size="6.5" text-anchor="middle" transform="translate(454.40,239.40) scale(0.92,1)" >Cultured</text>
<text x="0" y="0" font-size="6.5" text-anchor="middle" transform="translate(494.10,232.50) scale(0.92,1)" >CD3</text>
<text x="0" y="0" font-size="6.5" text-anchor="middle" transform="translate(494.10,239.40) scale(0.92,1)" >Activated</text>
<text class="yl" x="0" y="0" font-size="6.8" text-anchor="middle" transform="translate(416.90,191.60) rotate(-90) scale(0.81,1)">Percent positive (%)</text>
<path d="M454.70,247.30 V250.30 H493.80 V247.30" fill="none" stroke="#2a2a2a" stroke-width="0.9"/>
<path d="M474.50,250.30 V253.30" fill="none" stroke="#2a2a2a" stroke-width="1"/>
<text x="0" y="0" font-size="6.5" text-anchor="middle" transform="translate(474.25,261.00) scale(0.92,1)" >ns</text>
</g>
<rect x="0" y="0" width="520" height="1" fill="#777"/><rect x="0" y="0" width="1" height="269" fill="#5e5e5e"/><rect x="519" y="0" width="1" height="269" fill="#4a4a4a"/><rect x="0" y="268" width="520" height="1" fill="#666"/>
</svg></div></body></html>
